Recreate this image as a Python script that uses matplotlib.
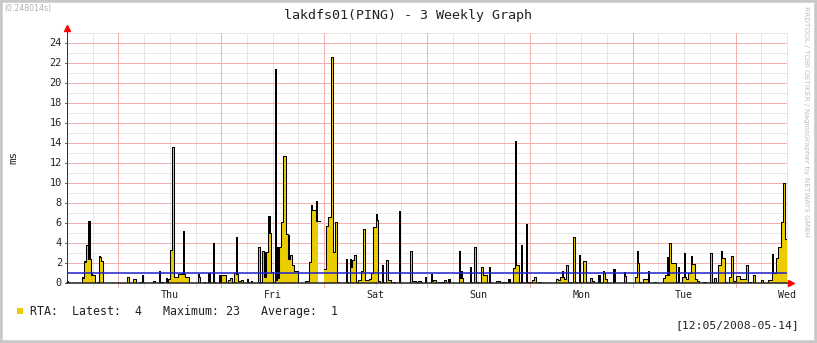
import matplotlib
matplotlib.use('Agg')
import matplotlib.pyplot as plt
from matplotlib.patches import Rectangle
import numpy as np

# half-hour samples over one week, hour 0 = Wednesday 12:00
STEP_H = 0.5
N_SAMPLES = 336

sample_idx = [0, 7, 8, 9, 10, 11, 12, 14, 15, 16, 28, 31, 34, 35, 40, 43, 44, 46, 47, 48,
              49, 50, 51, 52, 53, 54, 55, 56, 61, 64, 66, 68, 71, 72, 73, 75, 76, 78, 79, 80,
              81, 84, 86, 89, 90, 91, 92, 93, 94, 95, 96, 97, 98, 99, 100, 101, 102, 103, 104, 105,
              106, 107, 111, 112, 113, 114, 115, 116, 117, 120, 121, 122, 123, 124, 125, 126, 130, 132, 133, 134,
              135, 136, 137, 138, 139, 140, 141, 142, 143, 144, 145, 147, 149, 150, 152, 155, 160, 161, 162, 163,
              164, 167, 170, 171, 173, 174, 175, 176, 178, 183, 184, 188, 190, 191, 193, 194, 195, 197, 200, 201,
              203, 204, 206, 208, 209, 210, 211, 212, 214, 215, 217, 218, 220, 228, 229, 230, 231, 232, 233, 234,
              236, 237, 239, 241, 242, 244, 245, 248, 250, 251, 255, 260, 265, 266, 267, 269, 270, 271, 274, 278,
              279, 280, 281, 282, 283, 284, 285, 287, 288, 289, 290, 291, 292, 293, 294, 297, 300, 301, 302, 304,
              305, 306, 307, 309, 310, 311, 312, 313, 314, 315, 316, 317, 318, 320, 324, 327, 328, 329, 330, 331,
              332, 333, 334, 335]
rta_avg = [0.15, 0.5, 2.1, 3.8, 2.4, 0.8, 0.8, 0.1, 2.6, 2.2, 0.6, 0.4, 0.1, 0.05, 0.2, 0.1, 0.1, 0.1, 0.4, 3.3,
           13.6, 0.6, 0.6, 0.9, 0.9, 0.9, 0.6, 0.6, 0.6, 0.05, 0.1, 0.1, 0.1, 0.8, 0.8, 0.3, 0.5, 1.0, 0.9, 0.2,
           0.35, 0.1, 0.05, 3.6, 0.1, 3.2, 0.6, 3.1, 5.0, 1.1, 0.1, 0.3, 0.5, 3.6, 6.1, 12.7, 4.9, 2.4, 2.8, 1.8,
           1.2, 1.2, 0.2, 0.2, 2.1, 7.3, 7.3, 6.2, 6.2, 1.4, 5.7, 6.6, 22.6, 3.1, 6.1, 0.1, 0.1, 1.6, 2.3, 2.8,
           0.1, 0.3, 1.2, 5.4, 0.3, 0.3, 0.4, 1.0, 5.6, 6.3, 0.2, 0.1, 2.3, 0.3, 0.1, 0.05, 3.2, 0.2, 0.2, 0.15,
           0.2, 0.05, 0.2, 0.3, 0.15, 0.15, 0.1, 0.3, 0.0, 0.5, 0.5, 0.1, 3.6, 0.1, 1.6, 0.8, 0.8, 0.1, 0.2, 0.2,
           0.15, 0.15, 0.05, 1.5, 1.8, 1.8, 0.1, 0.1, 0.1, 0.1, 0.3, 0.6, 0.1, 0.4, 0.3, 0.6, 0.6, 0.4, 1.8, 0.1,
           4.6, 0.1, 0.1, 2.2, 0.1, 0.5, 0.2, 0.1, 1.0, 0.4, 0.05, 0.7, 0.6, 2.0, 0.1, 0.4, 0.4, 0.05, 0.1, 0.5,
           0.8, 0.8, 4.0, 2.0, 2.0, 0.1, 0.05, 0.6, 0.6, 0.4, 1.0, 1.9, 1.9, 0.4, 0.2, 0.1, 3.0, 0.1, 0.5, 1.8,
           2.5, 2.5, 0.1, 0.6, 2.7, 0.2, 0.7, 0.7, 0.4, 0.4, 0.4, 1.8, 0.1, 0.8, 0.3, 0.3, 0.3, 1.0, 1.0, 2.5,
           3.6, 6.1, 10.0, 4.4]
rta_max = [0.2, 0.6, 2.2, 3.8, 6.2, 1.0, 0.8, 0.1, 2.7, 2.2, 0.6, 0.4, 0.15, 0.8, 0.2, 1.2, 0.1, 0.5, 0.4, 3.3,
           13.6, 0.6, 0.6, 0.9, 1.0, 5.2, 0.6, 0.6, 0.9, 0.15, 1.0, 4.0, 0.8, 0.8, 0.8, 0.3, 0.5, 1.0, 4.6, 0.2,
           0.35, 0.4, 0.2, 3.6, 0.1, 3.2, 3.1, 3.1, 6.7, 1.1, 0.1, 21.4, 3.6, 3.6, 6.1, 12.7, 4.9, 4.8, 2.8, 1.8,
           1.2, 1.2, 0.2, 0.2, 2.1, 7.8, 7.3, 8.2, 8.4, 1.4, 5.7, 6.6, 22.6, 3.1, 6.1, 0.1, 2.4, 2.4, 2.3, 2.8,
           0.1, 0.3, 1.2, 5.4, 0.3, 0.3, 0.4, 1.0, 5.6, 6.9, 0.2, 1.8, 2.3, 0.3, 0.1, 7.2, 3.2, 0.2, 0.2, 0.15,
           0.2, 0.6, 0.9, 0.3, 0.15, 0.15, 0.1, 0.3, 0.4, 3.2, 1.2, 1.6, 3.6, 0.1, 1.6, 0.8, 0.8, 1.6, 0.2, 0.2,
           0.15, 0.15, 0.4, 1.5, 14.2, 1.8, 0.1, 3.8, 5.9, 0.1, 0.3, 0.6, 0.1, 0.4, 0.3, 0.6, 1.2, 0.4, 1.8, 0.1,
           4.6, 0.1, 2.8, 2.2, 0.1, 0.5, 0.2, 0.8, 1.2, 0.4, 1.4, 1.1, 0.6, 3.2, 0.1, 0.4, 0.4, 1.2, 0.1, 0.5,
           0.8, 2.6, 4.0, 2.0, 2.0, 0.1, 1.6, 0.6, 3.0, 0.4, 1.0, 2.7, 1.9, 0.4, 0.2, 0.1, 3.0, 0.1, 0.5, 1.8,
           3.2, 2.5, 0.1, 0.6, 2.7, 0.2, 0.7, 0.7, 0.4, 0.4, 0.4, 1.8, 0.1, 0.8, 0.3, 0.3, 0.3, 2.9, 1.0, 2.5,
           3.6, 6.1, 10.0, 4.4]
unknown_idx = [118, 119]

rta_average = 1.0
day_names = ['Thu', 'Fri', 'Sat', 'Sun', 'Mon', 'Tue', 'Wed']
day_label_hours = [24, 48, 72, 96, 120, 144, 168]
midnight_hours = [12, 36, 60, 84, 108, 132, 156]

avg = np.zeros(N_SAMPLES)
mx = np.zeros(N_SAMPLES)
avg[sample_idx] = rta_avg
mx[sample_idx] = rta_max
avg[unknown_idx] = np.nan
mx[unknown_idx] = np.nan

t = np.arange(N_SAMPLES + 1) * STEP_H
avg_s = np.append(avg, avg[-1])
mx_s = np.append(mx, mx[-1])

MONO = 'DejaVu Sans Mono'
W, H = 817, 343
PX = 0.72  # one pixel in points
GRID_MINOR = '#e6e6e6'
GRID_MAJOR = '#f2b0b0'
fig = plt.figure(figsize=(W / 100, H / 100), dpi=100)
fig.patch.set_facecolor('white')
ax = fig.add_axes([67 / W, (H - 283) / H, 720 / W, 250 / H])
ax.set_xlim(0, 168)
ax.set_ylim(0, 25)
for s in ax.spines.values():
    s.set_visible(False)
ax.set_xticks([])
ax.set_yticks([])

# grid: crisp one-pixel lines, minor first, major (red) over them
minor_y = [y for y in range(1, 26) if y % 2]
major_y = [y for y in range(2, 25, 2)]
minor_x = [h for h in range(6, 169, 6) if h not in midnight_hours]
grid_kw = dict(lw=PX, snap=True, antialiased=False)
ax.hlines(minor_y, 0, 168, color=GRID_MINOR, zorder=1, **grid_kw)
ax.vlines(minor_x, -0.35, 25, color=GRID_MINOR, zorder=1, clip_on=False, **grid_kw)
ax.hlines(major_y, 0, 168, color=GRID_MAJOR, zorder=1.5, **grid_kw)
ax.vlines(midnight_hours, -0.35, 25, color=GRID_MAJOR, zorder=1.5, clip_on=False, **grid_kw)
ax.hlines(major_y + [0], -0.45, 0, color='#666666', zorder=1, clip_on=False, **grid_kw)

# max as black area, average area on top with its outline
ax.fill_between(t, mx_s, step='post', color='black', lw=0, zorder=2)
ax.fill_between(t, avg_s, step='post', color='#EACC00', lw=0, zorder=3)
ax.step(t, avg_s, where='post', color='black', lw=0.75, zorder=4)
ax.axhline(rta_average, color='#2222cc', lw=1.1, zorder=5)

# axes with arrows
ax.plot([0, 0], [0, 25.3], color='#333333', lw=PX, clip_on=False, zorder=6)
ax.plot([0, 168.6], [0, 0], color='#222222', lw=1.1, clip_on=False, zorder=6)
ax.plot([0], [25.55], marker='^', color='red', ms=4, clip_on=False, zorder=7)
ax.plot([168.9], [0], marker='>', color='red', ms=4, clip_on=False, zorder=7)

for y in range(0, 25, 2):
    ax.text(-1.2, y, str(y), ha='right', va='center', fontsize=7.4, family=MONO, color='#222222')
for h, name in zip(day_label_hours, day_names):
    ax.text(h, -1.2, name, ha='center', va='center', fontsize=7.2, family=MONO, color='#222222')

fig.text(408 / W, 1 - 16 / H, 'lakdfs01(PING) - 3 Weekly Graph', ha='center', va='center',
         fontsize=9.6, family=MONO, color='#222222')
fig.text(13 / W, 1 - 157 / H, 'ms', rotation=90, ha='center', va='center',
         fontsize=7.8, family=MONO, color='#222222')
fig.text(4 / W, 1 - 9 / H, '(0.248014s)', ha='left', va='center', fontsize=5.6, color='#b0b0b0')
fig.text(806 / W, 1 - 6 / H, 'RRDTOOL / TOBI OETIKER / NagiosGrapher by NETWAYS GMBH', rotation=270,
         ha='center', va='top', fontsize=5.3, color='#c0c0c0')

# legend
fig.patches.append(Rectangle((17 / W, 1 - 314 / H), 6 / W, 6 / H, transform=fig.transFigure,
                             color='#EACC00', lw=0))
latest = avg[-1]
maximum = np.nanmax(avg)
fig.text(30 / W, 1 - 311 / H,
         'RTA:  Latest:  %.0f   Maximum: %.0f   Average:  %.0f' % (latest, maximum, rta_average),
         ha='left', va='center', fontsize=8.4, family=MONO, color='#222222')
fig.text(799 / W, 1 - 325 / H, '[12:05/2008-05-14]', ha='right', va='center',
         fontsize=8.2, family=MONO, color='#222222')

fig.patches.append(Rectangle((0, 0), 1, 1, transform=fig.transFigure, fill=False,
                             ec='#c8c8c8', lw=4))

fig.savefig('out.png', dpi=100)
